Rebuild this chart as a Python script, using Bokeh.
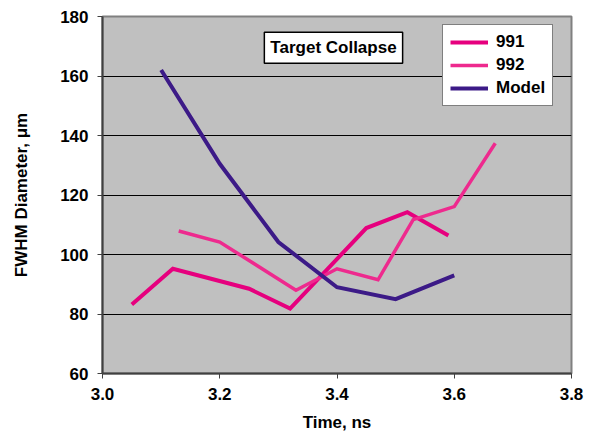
from bokeh.plotting import figure
from bokeh.models import FixedTicker, Label, Legend, LegendItem
from bokeh.embed import file_html
from bokeh.resources import INLINE

# Data
t_991 = [3.05, 3.12, 3.25, 3.32, 3.45, 3.52, 3.59]
d_991 = [83.2, 95.2, 88.5, 81.8, 108.9, 114.2, 106.4]

t_992 = [3.13, 3.20, 3.33, 3.40, 3.47, 3.53, 3.60, 3.67]
d_992 = [107.9, 104.2, 88.0, 95.2, 91.5, 111.7, 116.1, 137.4]

t_model = [3.10, 3.20, 3.30, 3.40, 3.50, 3.60]
d_model = [162.0, 130.5, 104.2, 89.0, 85.0, 93.0]

x_ticks = [3.0, 3.2, 3.4, 3.6, 3.8]
y_ticks = [60, 80, 100, 120, 140, 160, 180]

FONT = "Liberation Sans"

p = figure(width=591, height=436, x_range=(3.0, 3.8), y_range=(60, 180),
           output_backend="svg", toolbar_location=None,
           min_border_left=102, min_border_right=20, min_border_top=16, min_border_bottom=63)
p.background_fill_color = "#C0C0C0"
p.border_fill_color = "white"
p.outline_line_color = "#808080"
p.outline_line_width = 2

p.xgrid.visible = False
p.ygrid.grid_line_color = "#000000"
p.ygrid.grid_line_width = 1
p.ygrid.ticker = FixedTicker(ticks=y_ticks)

for ax in (p.xaxis[0], p.yaxis[0]):
    ax.axis_line_color = "#404040"
    ax.axis_line_width = 2
    ax.major_tick_line_color = "#404040"
    ax.major_tick_line_width = 1
    ax.major_tick_in = 0
    ax.major_tick_out = 5
    ax.minor_tick_line_color = None
    ax.major_label_text_font = FONT
    ax.major_label_text_font_style = "bold"
    ax.major_label_text_font_size = "17px"
    ax.major_label_text_color = "black"
    ax.axis_label_text_font = FONT
    ax.axis_label_text_font_style = "bold"
    ax.axis_label_text_font_size = "17px"
    ax.axis_label_text_color = "black"

p.xaxis.ticker = FixedTicker(ticks=x_ticks)
p.yaxis.ticker = FixedTicker(ticks=y_ticks)
p.xaxis.major_label_overrides = {v: f"{v:.1f}" for v in x_ticks}
p.xaxis.axis_label = "Time, ns"
p.yaxis.axis_label = "FWHM Diameter, \u03bcm"
p.xaxis.major_label_standoff = 9
p.yaxis.major_label_standoff = 9
p.xaxis.axis_label_standoff = 10
p.yaxis.axis_label_standoff = 26

r1 = p.line(t_991, d_991, line_color="#E6007E", line_width=4, line_join="miter")
r2 = p.line(t_992, d_992, line_color="#EE2A8E", line_width=3.5, line_join="miter")
r3 = p.line(t_model, d_model, line_color="#3C1A87", line_width=4, line_join="miter")

legend = Legend(items=[LegendItem(label="991", renderers=[r1]),
                       LegendItem(label="992", renderers=[r2]),
                       LegendItem(label="Model", renderers=[r3])],
                location=(340, 267),
                label_text_font=FONT, label_text_font_style="bold",
                label_text_font_size="17px", label_text_color="black",
                glyph_width=38, glyph_height=18, label_height=18,
                label_standoff=8, spacing=3, padding=7, margin=0,
                border_line_color="black", border_line_width=1,
                background_fill_color="white", background_fill_alpha=1.0)
p.add_layout(legend)

title = Label(x=3.394, y=169.5, text="Target Collapse",
              text_font=FONT, text_font_style="bold", text_font_size="17px",
              text_color="black", text_align="center", text_baseline="middle",
              background_fill_color="white", border_line_color="black",
              border_line_width=1.5, padding=6)
p.add_layout(title)

open("out.html", "w").write(file_html(p, INLINE))
